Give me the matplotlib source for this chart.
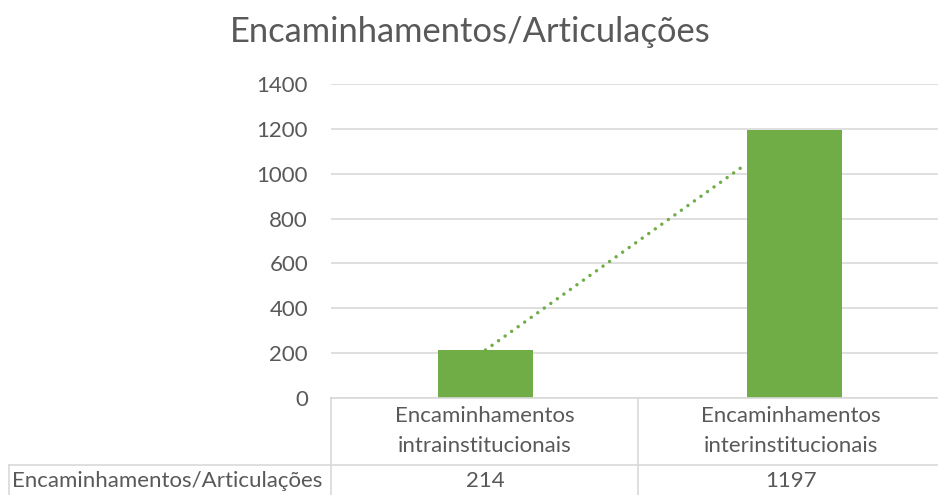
import numpy as np
import matplotlib.pyplot as plt
from matplotlib.lines import Line2D

plt.rcParams['font.family'] = ['Lato', 'DejaVu Sans']

title = "Encaminhamentos/Articulações"
categories = ["Encaminhamentos\nintrainstitucionais", "Encaminhamentos\ninterinstitucionais"]
series_name = "Encaminhamentos/Articulações"
values = [214, 1197]
yticks = [0, 200, 400, 600, 800, 1000, 1200, 1400]

green = '#70ad47'
grey_txt = '#595959'
grid_col = '#d9d9d9'
bar_w = 0.31

W, H = 938, 495
fig = plt.figure(figsize=(W / 100, H / 100), dpi=100)
ax = fig.add_axes([331 / W, 97 / H, 618 / W, 314 / H])

x = np.arange(len(values))
ax.bar(x, values, width=bar_w, color=green, zorder=3)

# linear trendline (hidden behind the bars, so stop it at the last bar's edge)
coef = np.polyfit(x, values, 1)
tx = np.array([x[0], x[-1] - bar_w / 2])
ax.plot(tx, np.polyval(coef, tx), color=green, lw=2.5,
        linestyle=(0, (0.01, 2.3)), dash_capstyle='round', zorder=2)

ax.set_xlim(-0.5, len(values) - 0.5)
ax.set_ylim(0, 1400)
ax.set_yticks(yticks)
ax.set_xticks([])
ax.grid(axis='y', color=grid_col, lw=1.2, zorder=0)
for s in ax.spines.values():
    s.set_visible(False)
ax.tick_params(axis='y', length=0, pad=16.5, labelsize=16, labelcolor=grey_txt)

fig.text(470 / W, 1 - 32 / H, title, ha='center', va='center', fontsize=24.8, color=grey_txt)


def px_line(x0, y0, x1, y1):
    fig.add_artist(Line2D([x0 / W, x1 / W], [1 - y0 / H, 1 - y1 / H],
                          transform=fig.transFigure, color=grid_col, lw=1.2))


# data table
px_line(331, 398, 938, 398)
px_line(9, 465, 938, 465)
px_line(331, 398, 331, 495)
px_line(638, 398, 638, 495)
px_line(9, 465, 9, 495)

col_centers = [485, 791]
for cx, cat, v in zip(col_centers, categories, values):
    fig.text(cx / W, 1 - 431 / H, cat, ha='center', va='center', fontsize=16,
             color=grey_txt, linespacing=1.6)
    fig.text(cx / W, 1 - 481 / H, str(v), ha='center', va='center', fontsize=16,
             color=grey_txt)
fig.text(12 / W, 1 - 481 / H, series_name, ha='left', va='center', fontsize=16,
         color=grey_txt)

fig.savefig('out.png', dpi=100)
